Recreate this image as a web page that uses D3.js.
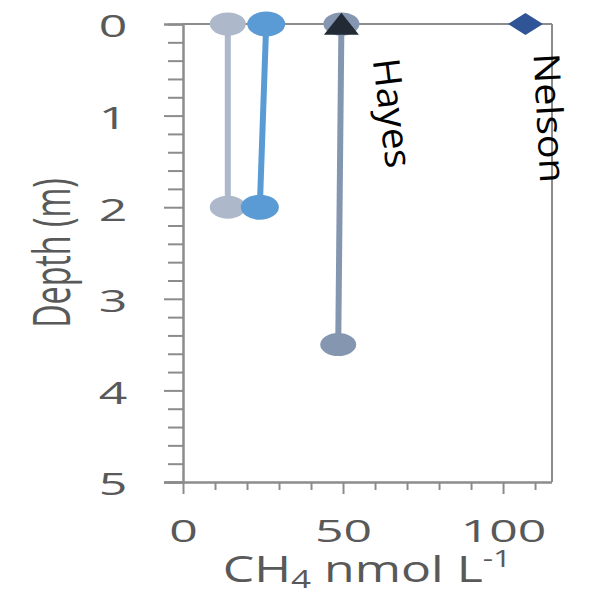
<!DOCTYPE html>
<html><head><meta charset="utf-8">
<script src="https://cdn.jsdelivr.net/npm/d3@7/dist/d3.min.js"></script>
<style>
html,body{margin:0;padding:0;background:#fff;}
svg{display:block;}
text{font-family:"Open Sans",sans-serif;}
</style></head>
<body>
<svg id="chart" width="590" height="592"></svg>
<script>
// ---- data ----
const seriesNames = ["Site A", "Site B", "Site C"];
const seriesConc = [[14, 14], [26, 24], [49.5, 48.5]];
const seriesDepth = [[0, 2], [0, 2], [0, 3.5]];
const seriesColors = ["#adb9cb", "#5b9bd5", "#8597b0"];
const pointNames = ["Hayes", "Nelson"];
const pointConc = [49.5, 107];
const pointDepth = [0, 0];
const xMajorTicks = [0, 50, 100];
const yMajorTicks = [0, 1, 2, 3, 4, 5];

const svg = d3.select("#chart");
const L = 183, R = 552, T = 24, B = 482;
const SQ = 0.62; // vertical squash of the original picture
const x = d3.scaleLinear().domain([0, 115.3]).range([L, R]);
const y = d3.scaleLinear().domain([0, 5]).range([T, B]);
const axisCol = "#8c8c8c", textCol = "#595959";

// frame (top and right)
svg.append("line").attr("x1", L).attr("x2", R).attr("y1", T).attr("y2", T)
  .attr("stroke", axisCol).attr("stroke-width", 2);
svg.append("line").attr("x1", R).attr("x2", R).attr("y1", T).attr("y2", B)
  .attr("stroke", axisCol).attr("stroke-width", 2);

// y axis minor + major
const yMinor = d3.range(0, 26).map(i => i / 5).filter(v => !yMajorTicks.includes(v));
const gyMin = svg.append("g").attr("transform", `translate(${L},0)`)
  .call(d3.axisLeft(y).tickValues(yMinor).tickSize(15).tickFormat(""));
const gy = svg.append("g").attr("transform", `translate(${L},0)`)
  .call(d3.axisLeft(y).tickValues(yMajorTicks).tickSize(19).tickFormat(d3.format("d")));
[gyMin, gy].forEach(g => {
  g.select(".domain").attr("stroke", axisCol).attr("stroke-width", 2);
  g.selectAll(".tick line").attr("stroke", axisCol).attr("stroke-width", 2);
});
gy.selectAll(".tick text")
  .attr("x", null).attr("dy", null)
  .attr("text-anchor", "middle")
  .attr("transform", `translate(-70,2) scale(1,${SQ})`)
  .attr("dy", "0.35em")
  .attr("font-size", 50).attr("fill", textCol)
  .style("font-family", '"Open Sans",sans-serif');

// x axis minor + major
const xMinor = d3.range(0, 12).map(i => i * 10).filter(v => !xMajorTicks.includes(v));
const gxMin = svg.append("g").attr("transform", `translate(0,${B})`)
  .call(d3.axisBottom(x).tickValues(xMinor).tickSize(8).tickFormat(""));
const gx = svg.append("g").attr("transform", `translate(0,${B})`)
  .call(d3.axisBottom(x).tickValues(xMajorTicks).tickSize(12).tickFormat(d3.format("d")));
[gxMin, gx].forEach(g => {
  g.select(".domain").attr("stroke", axisCol).attr("stroke-width", 2).attr("d", `M${L - 19},0.5H${R}`);
  g.selectAll(".tick line").attr("stroke", axisCol).attr("stroke-width", 2);
});
gx.selectAll(".tick text")
  .attr("y", null).attr("dy", null)
  .attr("text-anchor", "middle")
  .attr("transform", `translate(0,49) scale(1,${SQ})`)
  .attr("dy", "0.35em")
  .attr("font-size", 50).attr("fill", textCol)
  .style("font-family", '"Open Sans",sans-serif');

// axis titles
const xt = svg.append("text")
  .attr("transform", `translate(367,582) scale(1,0.74)`)
  .attr("text-anchor", "middle").attr("font-size", 50).attr("fill", textCol);
xt.append("tspan").text("CH");
xt.append("tspan").attr("font-size", 35).attr("dy", 8).text("4");
xt.append("tspan").attr("dy", -8).text(" nmol L");
xt.append("tspan").attr("font-size", 32).attr("dy", -20).text("-1");

svg.append("text")
  .attr("transform", `translate(70,253) scale(1,${SQ}) rotate(-90)`)
  .attr("text-anchor", "middle").attr("font-size", 52).attr("fill", textCol)
  .text("Depth (m)");

// series lines + markers
seriesNames.forEach((name, i) => {
  const pts = seriesConc[i].map((c, j) => [x(c), y(seriesDepth[i][j])]);
  svg.append("path").attr("d", d3.line()(pts))
    .attr("fill", "none").attr("stroke", seriesColors[i]).attr("stroke-width", 6);
  svg.selectAll(null).data(pts).enter().append("ellipse")
    .attr("cx", d => d[0]).attr("cy", d => d[1])
    .attr("rx", i === 1 ? 19 : 18).attr("ry", i === 1 ? 12.5 : 11.5)
    .attr("fill", seriesColors[i]);
});

// Hayes triangle
svg.append("path")
  .attr("d", d3.symbol(d3.symbolTriangle, 530)())
  .attr("transform", `translate(${x(pointConc[0])},${y(pointDepth[0]) + 3.5}) scale(1,0.73)`)
  .attr("fill", "#222a35");
// Nelson diamond
svg.append("path")
  .attr("d", d3.symbol(d3.symbolSquare, 612)())
  .attr("transform", `translate(${x(pointConc[1])},${y(pointDepth[1])}) scale(1,0.63) rotate(45)`)
  .attr("fill", "#2f5597");

// labels
svg.append("text")
  .attr("transform", `translate(${x(pointConc[0]) + 51},113) rotate(83)`)
  .attr("text-anchor", "middle").attr("dy", "0.35em")
  .attr("font-size", 37).attr("fill", "#000")
  .attr("textLength", 110).attr("lengthAdjust", "spacingAndGlyphs")
  .text(pointNames[0]);
svg.append("text")
  .attr("transform", `translate(${x(pointConc[1]) + 24},118) rotate(87)`)
  .attr("text-anchor", "middle").attr("dy", "0.35em")
  .attr("font-size", 36).attr("fill", "#000")
  .attr("textLength", 130).attr("lengthAdjust", "spacingAndGlyphs")
  .text(pointNames[1]);
</script>
</body></html>
